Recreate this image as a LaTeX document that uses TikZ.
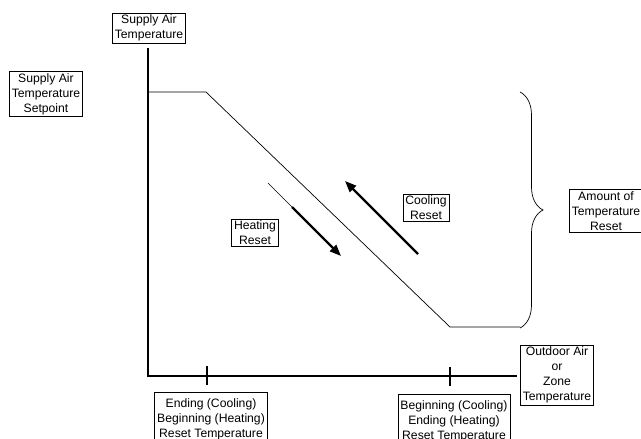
\documentclass[tikz,border=0pt]{standalone}
\usepackage{fontspec}
\setmainfont{Liberation Sans}
\usetikzlibrary{arrows.meta, decorations.pathreplacing}

\begin{document}
\begin{tikzpicture}[x=0.03cm, y=-0.03cm, font=\fontsize{10.4}{12.8}\selectfont,
        box/.style={draw, line width=0.6pt, align=center, inner xsep=2pt, inner ysep=1.5pt},
        axis/.style={line width=2pt},
        reset/.style={line width=2pt, -{Triangle[length=3.4mm, width=2.6mm]}}]
        \clip (0,0) rectangle (641,438);

        \node[box]                  (y title)   at (149,28)  {Supply Air\\Temperature};
        \node[box]                  (setpoint)  at (46,94)   {Supply Air\\Temperature\\Setpoint};
        \node[box]                  (x title)   at (557,375) {Outdoor Air\\or\\Zone\\Temperature};
        \node[box]                  (amount)    at (606,211) {Amount of\\Temperature\\Reset};
        \node[box]                  (heating)   at (255,233) {Heating\\Reset};
        \node[box]                  (cooling)   at (426,208) {Cooling\\Reset};
        \node[box, anchor=north, inner ysep=5pt] (ending)    at (211,392) {Ending (Cooling)\\Beginning (Heating)\\Reset Temperature};
        \node[box, anchor=north, inner ysep=5pt] (beginning) at (454,394) {Beginning (Cooling)\\Ending (Heating)\\Reset Temperature};

        \coordinate (y top)  at (148,48);
        \coordinate (origin) at (148,376);
        \coordinate (x end)  at (517,376);
        \coordinate (tick a) at (207,376);
        \coordinate (tick b) at (450,376);

        \coordinate (high start) at (148,92);
        \coordinate (high end)   at (206,92);
        \coordinate (low start)  at (450,327);
        \coordinate (low end)    at (520,327);

        \coordinate (brace top)    at (520,92);
        \coordinate (brace bottom) at (520,328);

        \coordinate (heat start) at (268,183);
        \coordinate (heat mid)   at (292,207);
        \coordinate (heat end)   at (341,256);
        \coordinate (cool start) at (418,254);
        \coordinate (cool end)   at (345,181);

        \draw[axis] (y top) -- (origin) -- (x end);
        \draw[axis] (tick a) ++(0,-10) -- ++(0,19);
        \draw[axis] (tick b) ++(0,-9) -- ++(0,19);

        \draw[line width=0.6pt] (high start) -- (high end) -- (low start) -- (low end);
        \draw[line width=0.6pt, decorate, decoration={brace, amplitude=0.69cm}] (brace top) -- (brace bottom);

        \draw[line width=0.5pt] (heat start) -- (heat mid);
        \draw[reset] (heat mid) -- (heat end);
        \draw[reset] (cool start) -- (cool end);
\end{tikzpicture}
\end{document}
